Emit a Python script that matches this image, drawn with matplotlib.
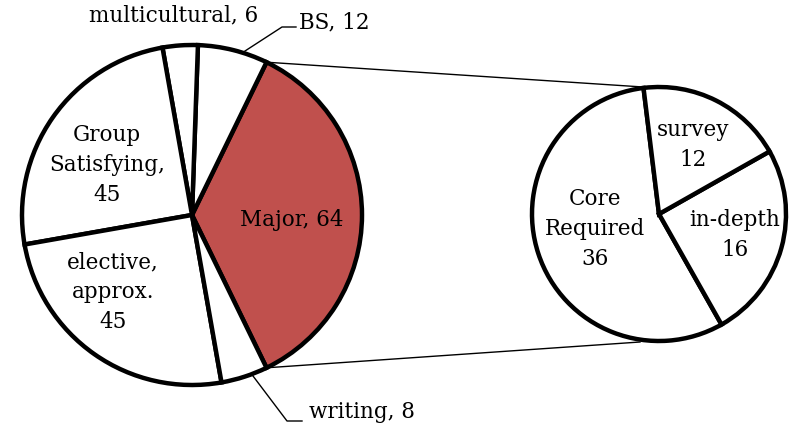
import matplotlib.pyplot as plt
import numpy as np

# main pie (total 180)
main_labels = ['Major, 64', 'BS, 12', 'multicultural, 6', 'Group\nSatisfying,\n45',
               'elective,\napprox.\n45', 'writing, 8']
main_values = [64, 12, 6, 45, 45, 8]
main_colors = ['#C0504D', 'white', 'white', 'white', 'white', 'white']

# breakdown of Major
sub_labels = ['Core\nRequired\n36', 'in-depth\n16', 'survey\n12']
sub_values = [36, 16, 12]

W, H = 791, 431
fig = plt.figure(figsize=(W / 100, H / 100), dpi=100)
ax = fig.add_axes([0, 0, 1, 1])

font = dict(family='DejaVu Serif', fontsize=15.5, color='black', linespacing=1.45)
wprops = dict(edgecolor='black', linewidth=3.2)

c1, r1 = (192, 215), 170
c2, r2 = (659, 216), 127

start1 = -main_values[0] / sum(main_values) * 180
w1, _ = ax.pie(main_values, colors=main_colors, startangle=start1, center=c1,
               radius=r1, wedgeprops=wprops, frame=True)
w2, _ = ax.pie(sub_values, colors=['white'] * 3, startangle=97, center=c2,
               radius=r2, wedgeprops=wprops, frame=True)
ax.set_xlim(0, W)
ax.set_ylim(0, H)
ax.set_aspect('equal')
ax.axis('off')

# labels inside slices
ax.text(292, H - 220, main_labels[0], ha='center', va='center', **font)
ax.text(107, H - 165, main_labels[3], ha='center', va='center', **font)
ax.text(113, H - 292, main_labels[4], ha='center', va='center', **font)
ax.text(595, H - 229, sub_labels[0], ha='center', va='center', **font)
ax.text(735, H - 235, sub_labels[1], ha='center', va='center', **font)
ax.text(693, H - 145, sub_labels[2], ha='center', va='center', **font)

# outside labels with leader lines
ax.text(174, H - 15, main_labels[2], ha='center', va='center', **font)
ax.text(299, H - 22, main_labels[1], ha='left', va='center', **font)
ax.plot([245, 282, 296], [H - 52, H - 28, H - 28], color='black', lw=1)
ax.text(309, H - 412, main_labels[5], ha='left', va='center', **font)
ax.plot([253, 287, 302], [H - 377, H - 422, H - 422], color='black', lw=1)

# connector lines from the Major slice to the second pie
t1 = np.deg2rad(w1[0].theta2)
t2 = np.deg2rad(w1[0].theta1)
ax.plot([c1[0] + r1 * np.cos(t1), 643], [c1[1] + r1 * np.sin(t1), H - 88],
        color='black', lw=1)
ax.plot([c1[0] + r1 * np.cos(t2), 640], [c1[1] + r1 * np.sin(t2), H - 343],
        color='black', lw=1)

fig.savefig('out.png', dpi=100)
